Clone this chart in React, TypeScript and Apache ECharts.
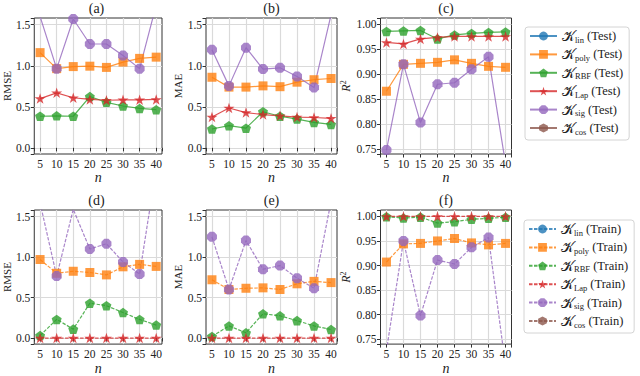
import React, { useEffect, useRef } from "react";
import * as echarts from "echarts";

// ---------------- data ----------------
const nValues = [5, 10, 15, 20, 25, 30, 35, 40];
const kernelNames = ["lin", "poly", "RBF", "Lap", "sig", "cos"];
const kernelColors = ["#1f77b4", "#ff7f0e", "#2ca02c", "#d62728", "#9467bd", "#8c564b"];

// (a) RMSE, Test
const rmseTestLin: number[] = [];
const rmseTestPoly = [1.16, 0.965, 0.99, 0.995, 0.98, 1.045, 1.09, 1.105];
const rmseTestRBF = [0.385, 0.39, 0.385, 0.625, 0.555, 0.51, 0.48, 0.465];
const rmseTestLap = [0.6, 0.67, 0.61, 0.59, 0.58, 0.585, 0.585, 0.59];
const rmseTestSig = [1.6, 0.965, 1.57, 1.265, 1.265, 1.125, 0.965, 1.74];
const rmseTestCos: number[] = [];

// (b) MAE, Test
const maeTestLin: number[] = [];
const maeTestPoly = [0.86, 0.74, 0.74, 0.755, 0.745, 0.8, 0.83, 0.845];
const maeTestRBF = [0.23, 0.27, 0.24, 0.44, 0.385, 0.35, 0.31, 0.285];
const maeTestLap = [0.375, 0.485, 0.43, 0.405, 0.39, 0.375, 0.37, 0.36];
const maeTestSig = [1.195, 0.755, 1.22, 0.96, 0.975, 0.87, 0.735, 1.62];
const maeTestCos: number[] = [];

// (c) R^2, Test
const r2TestLin: number[] = [];
const r2TestPoly = [0.866, 0.92, 0.922, 0.924, 0.929, 0.922, 0.916, 0.914];
const r2TestRBF = [0.986, 0.987, 0.988, 0.971, 0.979, 0.982, 0.984, 0.985];
const r2TestLap = [0.964, 0.961, 0.971, 0.974, 0.976, 0.976, 0.976, 0.976];
const r2TestSig = [0.748, 0.92, 0.803, 0.88, 0.883, 0.91, 0.935, 0.72];
const r2TestCos: number[] = [];

// (d) RMSE, Train
const rmseTrainLin: number[] = [];
const rmseTrainPoly = [0.97, 0.8, 0.825, 0.81, 0.78, 0.88, 0.91, 0.885];
const rmseTrainRBF = [0.03, 0.23, 0.11, 0.43, 0.4, 0.315, 0.23, 0.16];
const rmseTrainLap = [0, 0, 0, 0, 0, 0, 0, 0];
const rmseTrainSig = [1.67, 0.765, 1.59, 1.1, 1.165, 0.94, 0.79, 2.1];
const rmseTrainCos: number[] = [];

// (e) MAE, Train
const maeTrainLin: number[] = [];
const maeTrainPoly = [0.72, 0.6, 0.615, 0.62, 0.6, 0.67, 0.7, 0.685];
const maeTrainRBF = [0.02, 0.15, 0.065, 0.3, 0.275, 0.215, 0.15, 0.105];
const maeTrainLap = [0, 0, 0, 0, 0, 0, 0, 0];
const maeTrainSig = [1.25, 0.6, 1.205, 0.85, 0.895, 0.74, 0.615, 1.69];
const maeTrainCos: number[] = [];

// (f) R^2, Train
const r2TrainLin: number[] = [];
const r2TrainPoly = [0.907, 0.944, 0.945, 0.95, 0.955, 0.946, 0.942, 0.945];
const r2TrainRBF = [0.9995, 0.9965, 0.9985, 0.9865, 0.989, 0.994, 0.996, 0.998];
const r2TrainLap = [1, 1, 1, 1, 1, 1, 1, 1];
const r2TrainSig = [0.727, 0.95, 0.798, 0.911, 0.903, 0.937, 0.957, 0.695];
const r2TrainCos: number[] = [];

const panelTitles = ["(a)", "(b)", "(c)", "(d)", "(e)", "(f)"];
const panelMetrics = ["RMSE", "MAE", "R2", "RMSE", "MAE", "R2"];
const panelSplits = ["Test", "Test", "Test", "Train", "Train", "Train"];
const panelData = [
  [rmseTestLin, rmseTestPoly, rmseTestRBF, rmseTestLap, rmseTestSig, rmseTestCos],
  [maeTestLin, maeTestPoly, maeTestRBF, maeTestLap, maeTestSig, maeTestCos],
  [r2TestLin, r2TestPoly, r2TestRBF, r2TestLap, r2TestSig, r2TestCos],
  [rmseTrainLin, rmseTrainPoly, rmseTrainRBF, rmseTrainLap, rmseTrainSig, rmseTrainCos],
  [maeTrainLin, maeTrainPoly, maeTrainRBF, maeTrainLap, maeTrainSig, maeTrainCos],
  [r2TrainLin, r2TrainPoly, r2TrainRBF, r2TrainLap, r2TrainSig, r2TrainCos],
];

// ---------------- styling ----------------
const SERIF = "Liberation Serif";
const colLefts = [31, 206, 380.5];
const plotW = 131;
const rowTops = [18, 210];
const plotHs = [136, 137];

const PENTAGON = "path://M10,0L19.51,6.91L15.88,18.09L4.12,18.09L0.49,6.91Z";
const STAR =
  "path://M10,0L12.245,6.91L19.51,6.91L13.633,11.18L15.878,18.09L10,13.82L4.122,18.09L6.367,11.18L0.49,6.91L7.755,6.91Z";
const OCTAGON =
  "path://M19.24,13.83L13.83,19.24L6.17,19.24L0.76,13.83L0.76,6.17L6.17,0.76L13.83,0.76L19.24,6.17Z";
const HEXAGON = "path://M10,0L18.66,5L18.66,15L10,20L1.34,15L1.34,5Z";
const kernelSymbols = ["circle", "rect", PENTAGON, STAR, OCTAGON, HEXAGON];
const kernelSymbolSizes = [9, 9, 10, 11, 10, 10];

const isMult = (v: number, step: number) => Math.abs(v / step - Math.round(v / step)) < 1e-6;

function buildOption() {
  const grids: any[] = [];
  const xAxes: any[] = [];
  const yAxes: any[] = [];
  const series: any[] = [];
  const graphics: any[] = [];

  for (let p = 0; p < 6; p++) {
    const row = Math.floor(p / 3);
    const col = p % 3;
    const left = colLefts[col];
    const top = rowTops[row];
    const h = plotHs[row];
    grids.push({
      left,
      top,
      width: plotW,
      height: h,
      show: true,
      borderColor: "#333",
      borderWidth: 1,
      backgroundColor: "transparent",
      containLabel: false,
    });
    xAxes.push({
      type: "value",
      gridIndex: p,
      min: 3.25,
      max: 41.75,
      minInterval: 5,
      maxInterval: 5,
      splitNumber: 8,
      axisLine: { show: false },
      axisTick: { show: true, length: 3.5, lineStyle: { color: "#333", width: 1 } },
      axisLabel: {
        margin: 4,
        fontSize: 11.5,
        color: "#222",
        fontFamily: SERIF,
        formatter: (v: number) => (isMult(v, 5) ? String(Math.round(v)) : ""),
      },
      splitLine: {
        show: true,
        showMinLine: false,
        showMaxLine: false,
        lineStyle: { color: "#dadada", width: 1.2 },
      },
      name: "n",
      nameLocation: "middle",
      nameGap: 15,
      nameTextStyle: { fontStyle: "italic", fontSize: 14, fontFamily: SERIF, color: "#222" },
    });
    const metric = panelMetrics[p];
    const isR2 = metric === "R2";
    const step = isR2 ? 0.05 : 0.5;
    yAxes.push({
      type: "value",
      gridIndex: p,
      min: isR2 ? 0.74 : -0.075,
      max: isR2 ? 1.013 : 1.582,
      minInterval: step,
      maxInterval: step,
      splitNumber: isR2 ? 6 : 4,
      axisLine: { show: false },
      axisTick: { show: true, length: 3.5, lineStyle: { color: "#333", width: 1 } },
      axisLabel: {
        margin: 4,
        fontSize: 11.5,
        color: "#222",
        fontFamily: SERIF,
        formatter: (v: number) =>
          isMult(v, step) ? (Math.abs(v) < 1e-9 ? 0 : v).toFixed(isR2 ? 2 : 1) : "",
      },
      splitLine: {
        show: true,
        showMinLine: false,
        showMaxLine: false,
        lineStyle: { color: "#dadada", width: 1.2 },
      },
      name: isR2 ? "{r|R}{s|2}" : metric,
      nameLocation: "middle",
      nameGap: isR2 ? 24 : 20,
      nameRotate: 90,
      nameTextStyle: {
        fontSize: 11,
        fontFamily: SERIF,
        color: "#222",
        rich: {
          r: { fontStyle: "italic", fontSize: 12, fontFamily: SERIF, color: "#222", lineHeight: 14 },
          s: { fontSize: 8, fontFamily: SERIF, color: "#222", verticalAlign: "top", lineHeight: 9 },
        },
      },
    });
    graphics.push({
      type: "text",
      x: left + plotW / 2,
      y: top - 10,
      style: {
        text: panelTitles[p],
        textAlign: "center",
        textVerticalAlign: "middle",
        fontSize: 14,
        fontFamily: SERIF,
        fill: "#222",
      },
    });

    const split = panelSplits[p];
    const dashed = split === "Train";
    for (let k = 0; k < kernelNames.length; k++) {
      const arr = panelData[p][k];
      series.push({
        type: "line",
        name: `${kernelNames[k]} (${split})`,
        xAxisIndex: p,
        yAxisIndex: p,
        data: arr.map((v, i) => [nValues[i], v]),
        symbol: kernelSymbols[k],
        symbolSize: kernelSymbolSizes[k],
        symbolKeepAspect: true,
        showAllSymbol: true,
        clip: true,
        itemStyle: { color: kernelColors[k], opacity: 0.8, borderWidth: 0 },
        lineStyle: {
          color: kernelColors[k],
          width: 1.2,
          opacity: 0.8,
          type: dashed ? [3.5, 1.5] : "solid",
        },
        emphasis: { disabled: true },
      });
    }
  }

  const legendRich = {
    k: { fontSize: 14, fontFamily: "DejaVu Serif", color: "#222", lineHeight: 16 },
    s: { fontSize: 8.5, fontFamily: SERIF, color: "#222", verticalAlign: "bottom", lineHeight: 8.6 },
    t: { fontSize: 12.5, fontFamily: SERIF, color: "#222", lineHeight: 16 },
  };
  const legendFormatter = (name: string) => {
    const idx = name.indexOf(" ");
    return `{k|𝒦}{s|${name.slice(0, idx)}}{t| ${name.slice(idx + 1)}}`;
  };
  const legendBase = {
    orient: "vertical",
    itemWidth: 27,
    itemHeight: 11,
    itemGap: 3.4,
    padding: [2, 6, 4, 4],
    backgroundColor: "#fff",
    borderColor: "#d4d4d4",
    borderWidth: 1,
    borderRadius: 3,
    selectedMode: false,
    formatter: legendFormatter,
    textStyle: { fontFamily: SERIF, fontSize: 12.5, color: "#222", rich: legendRich },
  };

  return {
    animation: false,
    backgroundColor: "#fff",
    textStyle: { fontFamily: SERIF },
    grid: grids,
    xAxis: xAxes,
    yAxis: yAxes,
    series,
    graphic: graphics,
    legend: [
      { ...legendBase, left: 525, top: 27, data: kernelNames.map((k) => `${k} (Test)`) },
      { ...legendBase, left: 524, top: 220, data: kernelNames.map((k) => `${k} (Train)`) },
    ],
  };
}

export default function App() {
  const ref = useRef<HTMLDivElement>(null);
  useEffect(() => {
    if (!ref.current) return;
    const chart = echarts.init(ref.current, undefined, { renderer: "svg" });
    chart.setOption(buildOption() as any);
    return () => chart.dispose();
  }, []);
  return (
    <div
      ref={ref}
      style={{ position: "fixed", left: 0, top: 0, width: 640, height: 376, background: "#fff" }}
    />
  );
}
